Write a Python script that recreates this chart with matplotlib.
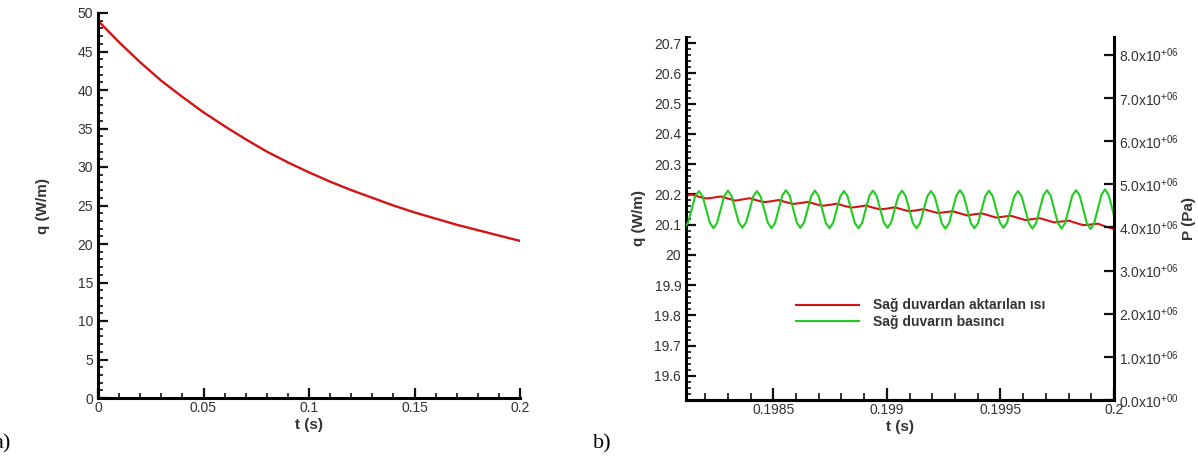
import matplotlib
matplotlib.use('Agg')
import matplotlib.pyplot as plt
import numpy as np
from matplotlib.ticker import MultipleLocator, FormatStrFormatter, FixedLocator, FixedFormatter

plt.rcParams['font.family'] = ['Liberation Sans', 'DejaVu Sans']
plt.rcParams['mathtext.fontset'] = 'custom'
plt.rcParams['mathtext.rm'] = 'Liberation Sans'

RED = '#d41414'
GREEN = '#1fcc1f'
TXT = '#333333'

# panel a) : heat flux over the whole run
t_a = [0.0, 0.01, 0.02, 0.03, 0.04, 0.05, 0.06, 0.07, 0.08, 0.09, 0.10,
       0.11, 0.12, 0.13, 0.14, 0.15, 0.16, 0.17, 0.18, 0.19, 0.20]
q_a = [49.0, 46.2, 43.6, 41.2, 39.1, 37.1, 35.3, 33.6, 32.0, 30.6, 29.3,
       28.1, 27.0, 26.0, 25.0, 24.1, 23.3, 22.5, 21.8, 21.1, 20.4]

# panel b) : last part of the run, sampled every dt
t0_b = 0.198109
dt_b = 1.596e-5
q_b = [20.195, 20.199, 20.192, 20.186, 20.189, 20.193, 20.186, 20.179, 20.183, 20.187,
       20.180, 20.174, 20.177, 20.181, 20.174, 20.168, 20.171, 20.175, 20.168, 20.162,
       20.165, 20.169, 20.162, 20.156, 20.159, 20.163, 20.156, 20.150, 20.153, 20.157,
       20.150, 20.144, 20.147, 20.151, 20.144, 20.138, 20.141, 20.144, 20.137, 20.130,
       20.134, 20.137, 20.130, 20.123, 20.126, 20.129, 20.122, 20.115, 20.118, 20.121,
       20.114, 20.107, 20.110, 20.113, 20.105, 20.098, 20.100, 20.103, 20.094, 20.087]
p_b = [3.99, 4.11, 4.42, 4.73, 4.84, 4.72, 4.42, 4.11, 3.98, 4.10,
       4.42, 4.73, 4.85, 4.73, 4.42, 4.11, 3.99, 4.11, 4.41, 4.72,
       4.84, 4.72, 4.42, 4.11, 3.98, 4.10, 4.42, 4.74, 4.86, 4.74,
       4.43, 4.11, 3.99, 4.11, 4.42, 4.73, 4.85, 4.73, 4.42, 4.10,
       3.98, 4.10, 4.41, 4.72, 4.84, 4.72, 4.41, 4.10, 3.98, 4.10,
       4.42, 4.73, 4.85, 4.73, 4.42, 4.11, 3.99, 4.11, 4.42, 4.73,
       4.85, 4.73, 4.42, 4.10, 3.98, 4.10, 4.41, 4.72, 4.84, 4.72,
       4.41, 4.09, 3.97, 4.10, 4.42, 4.74, 4.86, 4.74, 4.42, 4.10,
       3.98, 4.10, 4.42, 4.73, 4.85, 4.73, 4.42, 4.11, 3.99, 4.11,
       4.42, 4.72, 4.84, 4.72, 4.41, 4.09, 3.97, 4.10, 4.42, 4.74,
       4.86, 4.74, 4.42, 4.10, 3.97, 4.10, 4.42, 4.74, 4.86, 4.74,
       4.42, 4.09, 3.96, 4.09, 4.42, 4.75, 4.88, 4.75, 4.43, 4.10]  # x1e6 Pa
t_q = t0_b + 2 * dt_b * np.arange(len(q_b))
t_p = t0_b + dt_b * np.arange(len(p_b))

p_ticks = [0, 1e6, 2e6, 3e6, 4e6, 5e6, 6e6, 7e6, 8e6]
p_labels = [r'0.0x10$^{+00}$', r'1.0x10$^{+06}$', r'2.0x10$^{+06}$', r'3.0x10$^{+06}$',
            r'4.0x10$^{+06}$', r'5.0x10$^{+06}$', r'6.0x10$^{+06}$', r'7.0x10$^{+06}$',
            r'8.0x10$^{+06}$']
legend_labels = ['Sağ duvardan aktarılan ısı', 'Sağ duvarın basıncı']

fig = plt.figure(figsize=(11.98, 4.58), dpi=100, facecolor='white')


def style(ax, left=True, right=False):
    for s in ['top', 'right', 'left', 'bottom']:
        ax.spines[s].set_visible(False)
    ax.spines['bottom'].set_visible(True)
    ax.spines['bottom'].set_linewidth(2.2)
    if left:
        ax.spines['left'].set_visible(True)
        ax.spines['left'].set_linewidth(2.2)
    if right:
        ax.spines['right'].set_visible(True)
        ax.spines['right'].set_linewidth(2.2)
    ax.tick_params(which='both', direction='in', colors='#111111', labelcolor=TXT,
                   labelsize=10, top=False, right=False)
    ax.tick_params(which='major', length=7, width=1.6)
    ax.tick_params(which='minor', length=3.5, width=1.2)


# ---- a)
ax1 = fig.add_axes([98 / 1198, 60 / 458, 422 / 1198, 385 / 458])
ax1.plot(t_a, q_a, color=RED, lw=1.7)
ax1.set_xlim(0, 0.2)
ax1.set_ylim(0, 50)
style(ax1)
ax1.xaxis.set_major_locator(MultipleLocator(0.05))
ax1.xaxis.set_minor_locator(MultipleLocator(0.01))
ax1.yaxis.set_major_locator(MultipleLocator(5))
ax1.yaxis.set_minor_locator(MultipleLocator(1))
ax1.xaxis.set_major_formatter(FormatStrFormatter('%g'))
ax1.yaxis.set_major_formatter(FormatStrFormatter('%g'))
ax1.tick_params(axis='x', pad=2)
ax1.set_xlabel('t (s)', fontweight='bold', fontsize=11, labelpad=2, color=TXT)
ax1.set_ylabel('q (W/m)', fontweight='bold', fontsize=11, labelpad=20, color=TXT)

# ---- b)
ax2 = fig.add_axes([686 / 1198, 58 / 458, 428 / 1198, 363 / 458])
l1, = ax2.plot(t_q, q_b, color=RED, lw=1.5)
ax2.set_xlim(0.198116, 0.2)
ax2.set_ylim(19.52, 20.72)
style(ax2)
ax2.xaxis.set_major_locator(MultipleLocator(0.0005))
ax2.xaxis.set_minor_locator(MultipleLocator(0.0001))
ax2.yaxis.set_major_locator(MultipleLocator(0.1))
ax2.yaxis.set_minor_locator(MultipleLocator(0.02))
ax2.xaxis.set_major_formatter(FormatStrFormatter('%g'))
ax2.yaxis.set_major_formatter(FormatStrFormatter('%g'))
ax2.tick_params(axis='x', which='major', length=9, pad=2)
ax2.tick_params(axis='x', which='minor', length=5)
ax2.set_xlabel('t (s)', fontweight='bold', fontsize=11, labelpad=2, color=TXT)
ax2.set_ylabel('q (W/m)', fontweight='bold', fontsize=11, labelpad=6, color=TXT)

ax3 = ax2.twinx()
l2, = ax3.plot(t_p, np.array(p_b) * 1e6, color=GREEN, lw=1.5)
ax3.set_ylim(0, 8.41e6)
style(ax3, left=False, right=True)
ax3.tick_params(left=False, right=True, labelleft=False, labelright=True, labelsize=10)
ax3.yaxis.set_major_locator(FixedLocator(p_ticks))
ax3.yaxis.set_major_formatter(FixedFormatter(p_labels))
ax3.yaxis.set_minor_locator(MultipleLocator(2e5))
ax3.set_ylabel('P (Pa)', fontweight='bold', fontsize=11, labelpad=2, color=TXT)

fig.legend([l1, l2], legend_labels, loc='upper left', bbox_to_anchor=(783 / 1198, 1 - 286 / 458),
           frameon=False, handlelength=4.6, handletextpad=1.0, labelspacing=0.15,
           prop={'weight': 'bold', 'size': 10}, labelcolor=TXT)

fig.text(-0.006, 0.02, 'a)', family='Liberation Serif', fontsize=16)
fig.text(593 / 1198, 0.02, 'b)', family='Liberation Serif', fontsize=16)

fig.savefig('out.png', dpi=100)
